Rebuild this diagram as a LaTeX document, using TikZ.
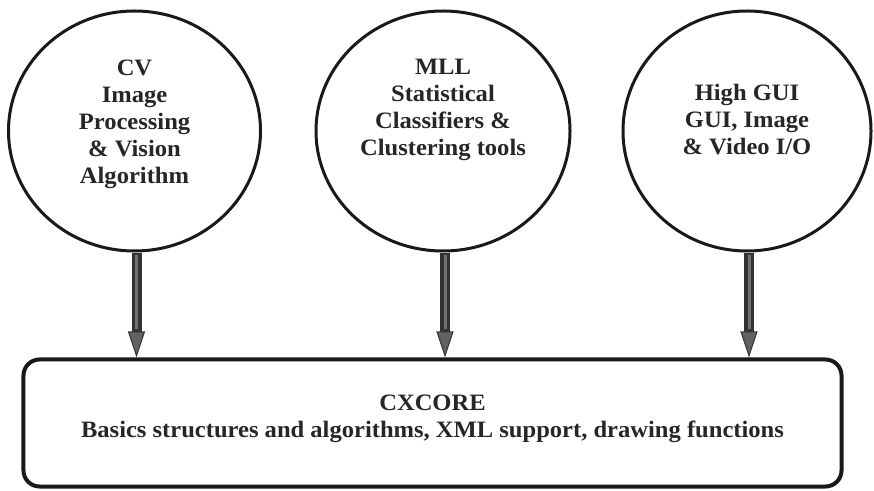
\documentclass[tikz,border=0pt]{standalone}
\usepackage{fontspec}
\setmainfont{Liberation Serif}
\newfontfamily\widefont[FakeStretch=1.045]{Liberation Serif}
\usetikzlibrary{shapes.geometric,arrows.meta}
\tikzset{
  bubble/.style={ellipse, draw=black!90, line width=3bp, inner sep=0pt, fill=white},
  lbl/.style={align=center, text=black!85, font=\widefont\fontsize{23.5bp}{27bp}\selectfont\bfseries},
  basebox/.style={rectangle, rounded corners=16bp, draw=black!90, line width=4bp, inner sep=0pt,
    minimum width=818bp, minimum height=127bp},
  shaft/.style={line width=10bp, draw=black!80,
    -{Triangle[length=26bp,width=17bp,line width=1bp,fill=black!62]}},
  shine/.style={line width=3bp, draw=black!55, shorten >=28bp, shorten <=2bp}
}
\begin{document}
\begin{tikzpicture}[x=1bp,y=-1bp]
\useasboundingbox (0,0) rectangle (874,491);
\fill[white] (0,0) rectangle (874,491);
\node[basebox] (box) at (432.5,423) {};
\node[bubble, minimum width=252bp, minimum height=240bp] (c1) at (134.5,131) {};
\node[bubble, minimum width=254bp, minimum height=240bp] (c2) at (443,131) {};
\node[bubble, minimum width=248bp, minimum height=240bp] (c3) at (747,131) {};
\node[lbl] (t1) at (134.5,124) {CV\\Image\\Processing\\\& Vision\\Algorithm};
\node[lbl] (t2) at (443,110) {MLL\\Statistical\\Classifiers \&\\Clustering tools};
\node[lbl] (t3) at (747,120) {High GUI\\GUI, Image\\\& Video I/O};
\node[lbl] (tb) at (432.5,419) {CXCORE\\Basics structures and algorithms, XML support, drawing functions};
\foreach \c in {c1,c2,c3}{
  \draw[shaft] ([xshift=2bp]\c.south) -- ([xshift=2bp]\c.south |- box.north);
  \draw[shine] ([xshift=2bp]\c.south) -- ([xshift=2bp]\c.south |- box.north);
}
\end{tikzpicture}
\end{document}
